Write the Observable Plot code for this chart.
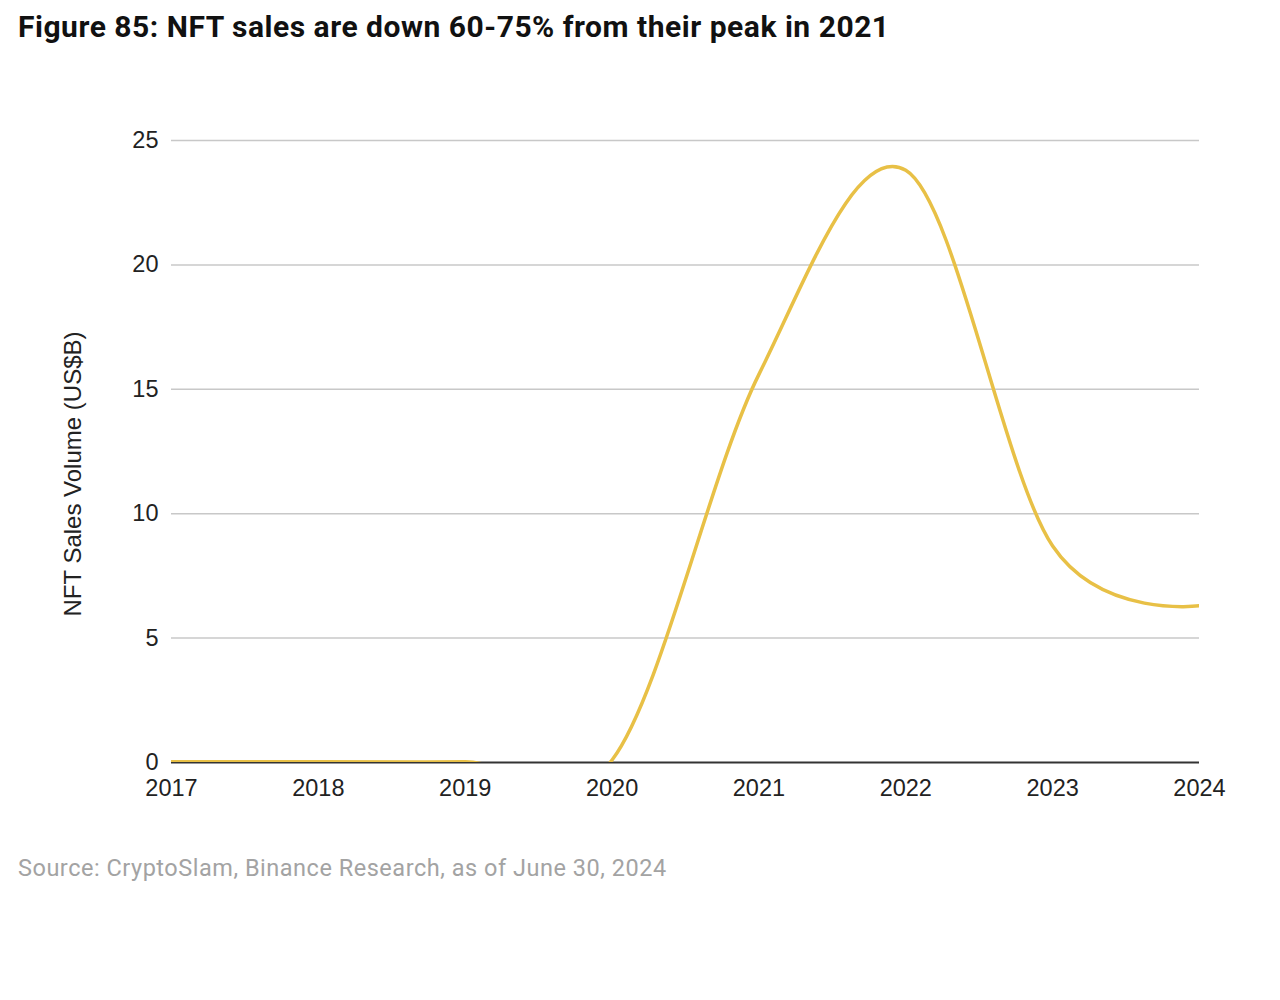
<!DOCTYPE html>
<html>
<head>
<meta charset="utf-8">
<script src="https://cdn.jsdelivr.net/npm/d3@7"></script>
<script src="https://cdn.jsdelivr.net/npm/@observablehq/plot@0.6"></script>
<style>
  html, body { margin: 0; padding: 0; background: #fff; }
  #wrap { position: relative; width: 1280px; height: 1000px; overflow: hidden; }
  #title { position: absolute; left: 18px; top: 9px; font-family: Roboto, sans-serif; font-weight: 700; font-size: 30px; color: #111; white-space: nowrap; letter-spacing: 0.52px; }
  #chart { position: absolute; left: 0; top: 100px; }
  #ylabel { position: absolute; left: 73px; top: 474px; transform: translate(-50%, -50%) rotate(-90deg); font-family: "Liberation Sans", Arial, sans-serif; font-size: 24px; color: #222; white-space: nowrap; }
  #source { position: absolute; left: 18px; top: 854px; font-family: Roboto, sans-serif; font-weight: 400; font-size: 23.5px; color: #a3a3a3; white-space: nowrap; letter-spacing: 0.52px; }
</style>
</head>
<body>
<div id="wrap">
  <div id="title">Figure 85: NFT sales are down 60-75% from their peak in 2021</div>
  <div id="chart"></div>
  <div id="ylabel">NFT Sales Volume (US$B)</div>
  <div id="source">Source: CryptoSlam, Binance Research, as of June 30, 2024</div>
</div>
<script>
const years = [2017, 2018, 2019, 2020, 2021, 2022, 2023, 2024];
const salesVolume = [0.03, 0.03, 0.03, 0.1, 15.6, 23.8, 8.7, 6.3];
const yTicks = [0, 5, 10, 15, 20, 25];
const xTicks = [2017, 2018, 2019, 2020, 2021, 2022, 2023, 2024];

const data = years.map((y, i) => ({year: y, value: salesVolume[i]}));

const chart = Plot.plot({
  width: 1280,
  height: 720,
  marginTop: 40,
  marginBottom: 58,
  marginLeft: 171,
  marginRight: 81,
  style: {fontFamily: "'Liberation Sans', Arial, sans-serif", fontSize: "23.5px", color: "#222", background: "transparent"},
  x: {domain: [2017, 2024], ticks: xTicks, tickFormat: "d", tickSize: 0, tickPadding: 17, label: null},
  y: {domain: [0, 25], ticks: yTicks, tickSize: 0, tickPadding: 13, label: null},
  marks: [
    Plot.gridY(yTicks.filter(d => d > 0), {stroke: "#c8c8c8", strokeOpacity: 1, strokeWidth: 1.5}),
    Plot.ruleY([0], {stroke: "#333", strokeWidth: 2}),
    Plot.line(data, {x: "year", y: "value", stroke: "#e8c046", strokeWidth: 3.5, curve: d3.curveCardinal.tension(0), clip: true})
  ]
});
document.getElementById("chart").appendChild(chart);
</script>
</body>
</html>
